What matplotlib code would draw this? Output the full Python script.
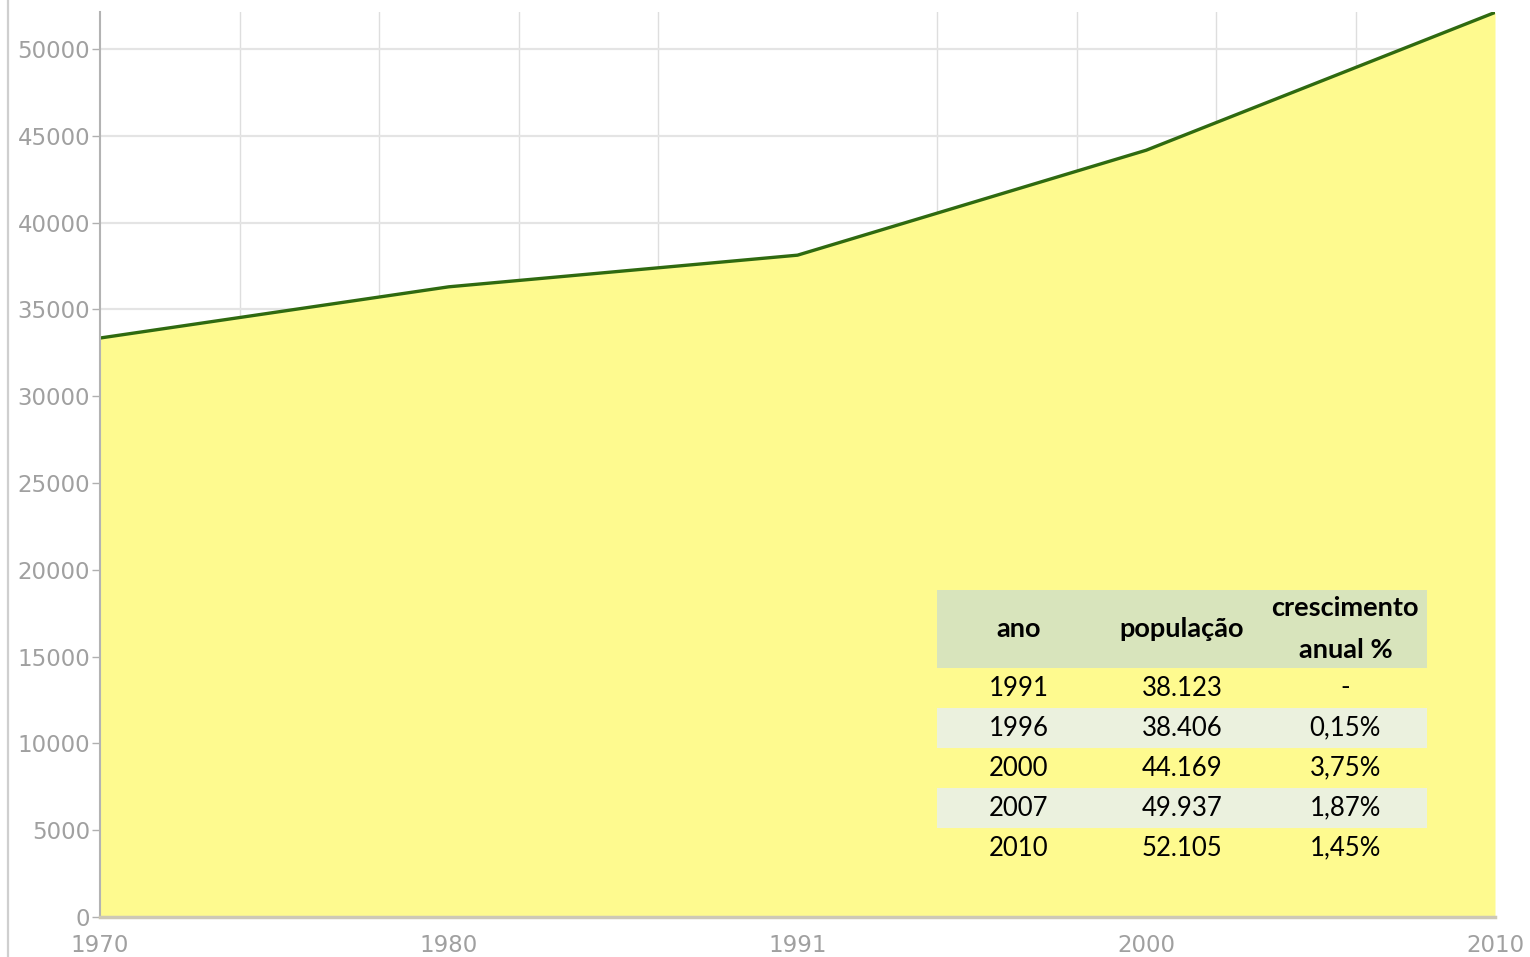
import numpy as np
import matplotlib
matplotlib.use("Agg")
import matplotlib.pyplot as plt
from matplotlib.lines import Line2D

# ---- data ----
years = ["1970", "1980", "1991", "2000", "2010"]
population = [33350, 36300, 38123, 44169, 52105]
y_ticks = [0, 5000, 10000, 15000, 20000, 25000, 30000, 35000, 40000, 45000, 50000]

table_header = ["ano", "população", "crescimento\nanual %"]
table_years = ["1991", "1996", "2000", "2007", "2010"]
table_pop = ["38.123", "38.406", "44.169", "49.937", "52.105"]
table_growth = ["-", "0,15%", "3,75%", "1,87%", "1,45%"]

# ---- figure ----
W, H = 1530, 957
fig = plt.figure(figsize=(W / 100, H / 100), dpi=100)
fig.patch.set_facecolor("white")
ax = fig.add_axes([100 / W, 1 - 917 / H, (1495 - 100) / W, (917 - 12) / H])

x = np.arange(len(years))
ax.fill_between(x, population, 0, color="#fefa8f", linewidth=0, zorder=2)
ax.plot(x, population, color="#2f6a10", linewidth=2.4, zorder=3, solid_capstyle="round")

ax.set_xlim(0, len(years) - 1)
ax.set_ylim(0, 52130)

ax.set_yticks(y_ticks)
ax.set_yticklabels([str(v) for v in y_ticks])
ax.set_xticks(x)
ax.set_xticklabels(years)
ax.set_xticks(np.arange(0, len(years) - 1 + 0.001, 0.4), minor=True)

ax.grid(False)
ax.yaxis.grid(True, which="major", color="#e4e4e4", linewidth=1.6, zorder=0)
ax.xaxis.grid(True, which="minor", color="#dedede", linewidth=1.0, zorder=0)
ax.set_axisbelow(True)

for s in ["top", "right"]:
    ax.spines[s].set_visible(False)
ax.spines["left"].set_color("#b3b3b3")
ax.spines["left"].set_linewidth(1.5)
ax.spines["bottom"].set_color("#cdc8b6")
ax.spines["bottom"].set_linewidth(2.5)
ax.spines["left"].set_zorder(4)
ax.spines["bottom"].set_zorder(4)

ax.tick_params(axis="y", which="major", length=6, width=1, color="#b0b0b0",
               labelsize=16.5, labelcolor="#a0a0a0", pad=1)
ax.tick_params(axis="x", which="both", length=0, labelsize=16.5,
               labelcolor="#a0a0a0", pad=12)
for lab in ax.get_xticklabels() + ax.get_yticklabels():
    lab.set_fontfamily("DejaVu Sans")

# ---- table ----
cell_text = [list(r) for r in zip(table_years, table_pop, table_growth)]
tbl = ax.table(cellText=cell_text, colLabels=table_header, cellLoc="center",
               bbox=[(937 - 100) / 1395, (917 - 868) / 905,
                     (1427 - 937) / 1395, (868 - 590) / 905],
               zorder=5)
tbl.auto_set_font_size(False)
row_colors = {0: "#d8e4bc", 2: "#ebf1de", 4: "#ebf1de"}
for (r, c), cell in tbl.get_celld().items():
    cell.set_edgecolor("none")
    cell.set_linewidth(0)
    cell.set_height(1.95 if r == 0 else 1.0)
    if r in row_colors:
        cell.set_facecolor(row_colors[r])
    else:
        cell.set_facecolor("none")
    t = cell.get_text()
    t.set_fontfamily("Lato")
    t.set_fontsize(18.5)
    t.set_color("black")
    if r == 0:
        t.set_fontweight("bold")
        t.set_fontsize(19.5)
        t.set_linespacing(1.85)

# left outer border line
fig.add_artist(Line2D([7.5 / W, 7.5 / W], [0, 1], transform=fig.transFigure,
                      color="#cfcfcf", linewidth=1.6))

fig.savefig("out.png", dpi=100, facecolor="white")
